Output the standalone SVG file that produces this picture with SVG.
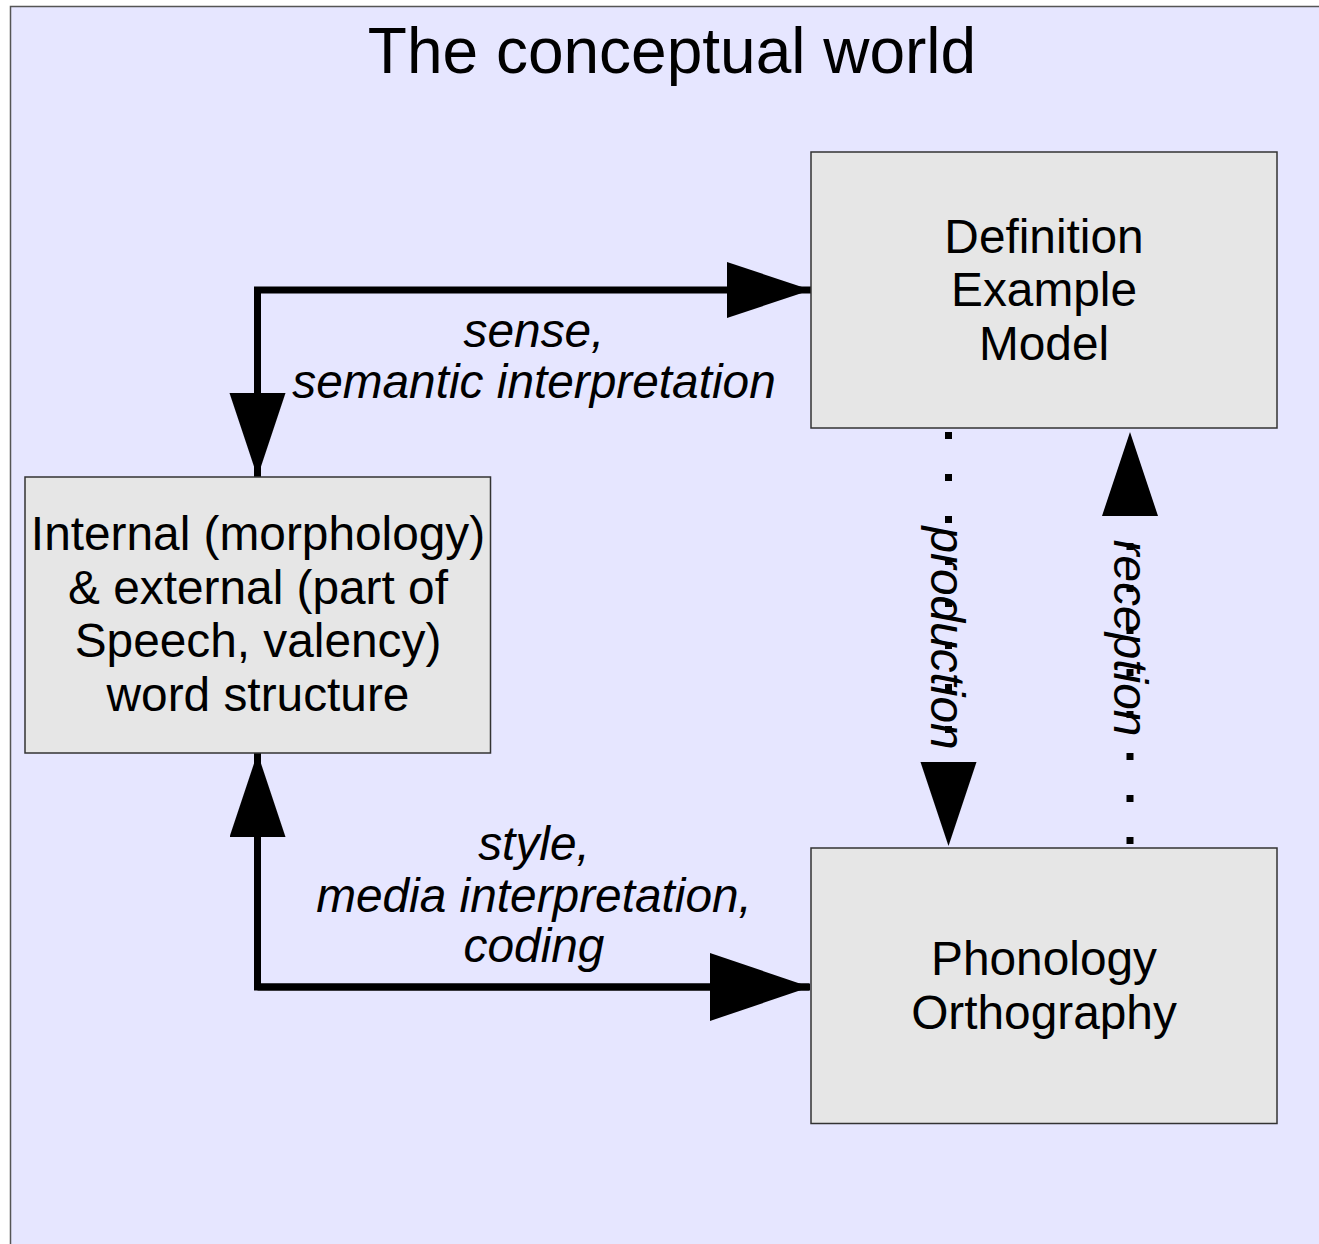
<svg xmlns="http://www.w3.org/2000/svg" width="1319" height="1244" viewBox="0 0 1319 1244">
<defs>
<style>
.frame{fill:#e6e6ff;stroke:#555;stroke-width:1.5}
.box{fill:#e6e6e6;stroke:#333;stroke-width:1.5}
.t{font-family:"Liberation Sans",Arial,sans-serif;fill:#000;text-anchor:middle}
.title{font-size:64px}
.nt{font-size:47.8px}
.lbl{font-size:47.8px;font-style:italic}
.conn{fill:none;stroke:#000;stroke-width:7;stroke-linejoin:miter}
.dot{fill:none;stroke:#000;stroke-width:7;stroke-dasharray:7 35}
</style>
<marker id="ah" markerUnits="userSpaceOnUse" markerWidth="86" markerHeight="58" refX="84" refY="28" orient="auto" viewBox="0 0 86 58">
<path d="M0,0 L84,28 L0,56 z" fill="#000"/>
</marker>
<marker id="ahL" markerUnits="userSpaceOnUse" markerWidth="102" markerHeight="70" refX="100" refY="34" orient="auto" viewBox="0 0 102 70">
<path d="M0,0 L100,34 L0,68 z" fill="#000"/>
</marker>
</defs>
<rect width="1319" height="1244" fill="#fff"/>
<rect class="frame" x="10.5" y="6.5" width="1330" height="1260"/>
<text class="t title" x="672" y="73">The conceptual world</text>

<g id="connectors">
<path class="conn" d="M257.5,476 L257.5,290 L811,290" marker-end="url(#ah)"/>
<path class="conn" d="M257.5,290 L257.5,477" marker-end="url(#ah)"/>
<path class="conn" d="M809,987 L257.5,987 L257.5,753" marker-end="url(#ah)"/>
<path class="conn" d="M257.5,987 L810,987" marker-end="url(#ahL)"/>
<path class="dot" d="M948.5,432 L948.5,846" marker-end="url(#ah)"/>
<path class="dot" d="M1130,844 L1130,432" marker-end="url(#ah)"/>
<text class="t lbl" x="534" y="347">sense,</text>
<text class="t lbl" x="534" y="398">semantic interpretation</text>
<text class="t lbl" x="534" y="860">style,</text>
<text class="t lbl" x="534" y="912">media interpretation,</text>
<text class="t lbl" x="534" y="962">coding</text>
<text class="t lbl" transform="translate(931,638) rotate(90)">production</text>
<text class="t lbl" transform="translate(1114,638) rotate(90)">reception</text>
</g>

<g id="node-definition">
<rect class="box" x="811" y="152" width="466" height="276"/>
<text class="t nt" x="1044" y="252.7">Definition</text>
<text class="t nt" x="1044" y="306.4">Example</text>
<text class="t nt" x="1044" y="360">Model</text>
</g>

<g id="node-word-structure">
<rect class="box" x="25" y="477" width="465.5" height="276"/>
<text class="t nt" x="258" y="550">Internal (morphology)</text>
<text class="t nt" x="258" y="603.7">&amp; external (part of</text>
<text class="t nt" x="258" y="657.4">Speech, valency)</text>
<text class="t nt" x="258" y="711">word structure</text>
</g>

<g id="node-phonology">
<rect class="box" x="811" y="848" width="466" height="275.5"/>
<text class="t nt" x="1044" y="975">Phonology</text>
<text class="t nt" x="1044" y="1029">Orthography</text>
</g>
</svg>
